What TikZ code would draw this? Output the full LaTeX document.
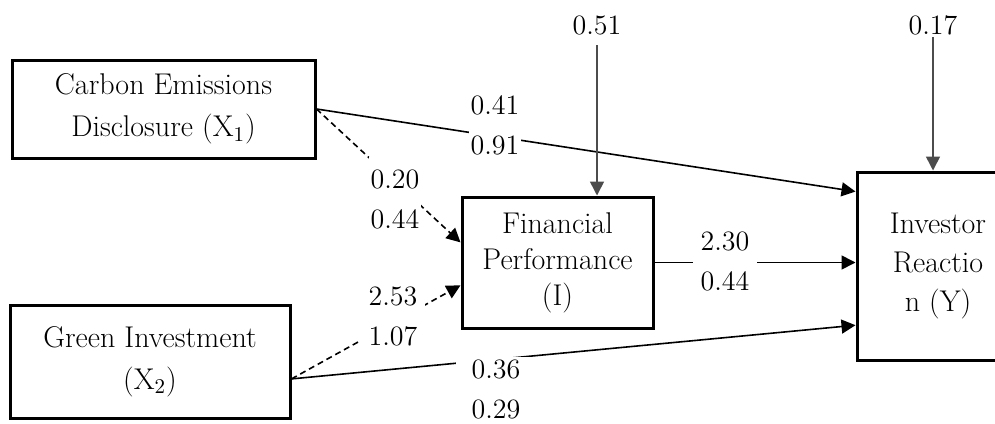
\documentclass[tikz,border=0pt]{standalone}
\usepackage{tikz}
\usetikzlibrary{arrows.meta,positioning,calc}
\tikzset{
  varbox/.style = {draw, line width=1.5pt, align=center, inner sep=0pt, font=\fontsize{15}{21}\selectfont},
  pathedge/.style = {-{Triangle[length=7pt,width=7pt]}, line width=0.8pt},
  indirect/.style = {pathedge, dash pattern=on 3pt off 2pt},
  erredge/.style = {pathedge, black!70},
  coef/.style = {fill=white, inner sep=1pt, align=center, font=\fontsize{14}{20}\selectfont},
}

\begin{document}
\begin{tikzpicture}[x=0.5pt,y=-0.5pt]
  \useasboundingbox (0,0) rectangle (995,423);
  % Variables
  \node[varbox, minimum width=151.5pt, minimum height=49pt] (X1) at (163.5,109)
    {Carbon Emissions\\Disclosure (X\textsubscript{1})};
  \node[varbox, minimum width=140pt, minimum height=56.5pt] (X2) at (150,361.5)
    {Green Investment\\(X\textsubscript{2})};
  \node[varbox, minimum width=95.5pt, minimum height=65.5pt, font=\fontsize{15}{18}\selectfont] (I) at (557.5,262.5)
    {Financial\\Performance\\(I)};
  \node[varbox, minimum width=81pt, minimum height=94pt, font=\fontsize{15}{19.5}\selectfont] (Y) at (938,266)
    {Investor\\Reactio\\n (Y)};

  % Paths
  \draw[pathedge] (X1.east) -- ($(Y.north west)!0.11!(Y.south west)$);
  \draw[indirect] (X1.east) -- ($(I.north west)!0.35!(I.south west)$);
  \draw[indirect] ($(X2.north east)!0.65!(X2.south east)$) -- ($(I.north west)!0.67!(I.south west)$);
  \draw[pathedge] ($(X2.north east)!0.65!(X2.south east)$) -- ($(Y.north west)!0.81!(Y.south west)$);
  \draw[pathedge] (I.east) -- (I.east -| Y.west);

  % Coefficients
  \node[coef] (c1) at (495,125) {0.41\\0.91};
  \node[coef, inner ysep=6pt] (c2) at (395,199) {0.20\\0.44};
  \node[coef, inner ysep=6pt, inner xsep=4pt] (c3) at (393,316) {2.53\\1.07};
  \node[coef, inner xsep=4pt] (c4) at (725,261) {2.30\\0.44};
  \node[coef, inner xsep=8pt] (c5) at (496,389) {0.36\\0.29};

  % Error terms
  \node[coef] (e1) at (597,25) {0.51};
  \node[coef] (e2) at (933,25) {0.17};
  \draw[erredge, shorten <=4pt] (e1.south) -- (e1.south |- I.north);
  \draw[erredge] (e2.south) -- (e2.south |- Y.north);
\end{tikzpicture}
\end{document}
